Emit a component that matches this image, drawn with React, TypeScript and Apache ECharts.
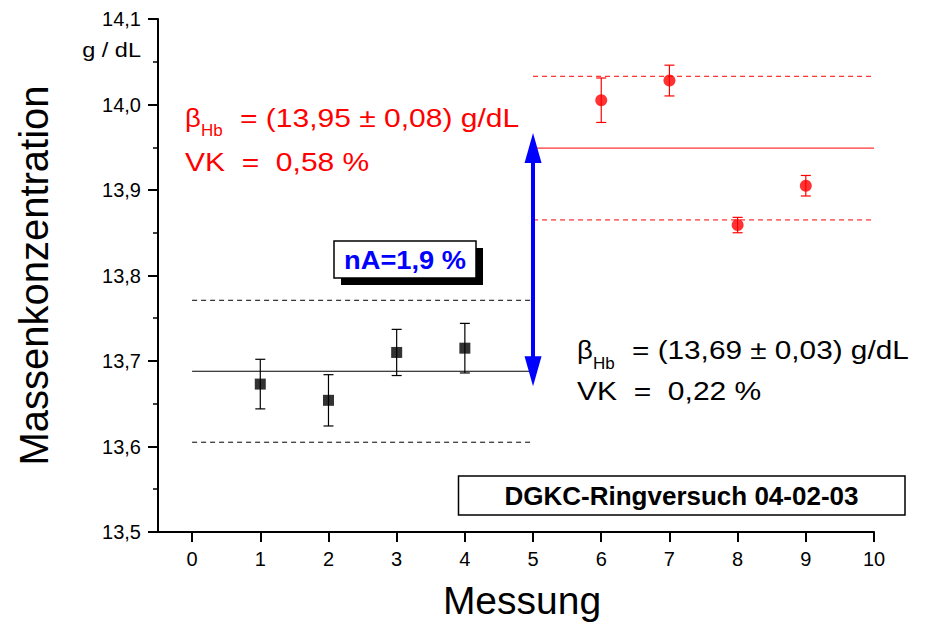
import React, { useEffect, useRef } from "react";
import * as echarts from "echarts";

// ---- data ----
const xTickValues = [0, 1, 2, 3, 4, 5, 6, 7, 8, 9, 10];

const labAX = [1, 2, 3, 4];
const labAY = [13.673, 13.654, 13.71, 13.715];
const labAErr = [0.029, 0.03, 0.027, 0.029];
const labAMean = 13.688;
const labABand = [13.605, 13.771];
const labARange = [0, 5];

const labBX = [6, 7, 8, 9];
const labBY = [14.005, 14.028, 13.859, 13.905];
const labBErr = [0.026, 0.018, 0.009, 0.012];
const labBMean = 13.949;
const labBBand = [13.865, 14.033];
const labBRange = [5, 10];

const FONT = "'Liberation Sans', Arial, Helvetica, sans-serif";

function errorSeries(xs: number[], ys: number[], errs: number[], color: string) {
  return {
    type: "custom",
    silent: true,
    z: 2,
    data: xs.map((x, i) => [x, ys[i] - errs[i], ys[i] + errs[i]]),
    encode: { x: 0, y: [1, 2] },
    renderItem: (params: any, api: any) => {
      const x = api.value(0);
      const pLo = api.coord([x, api.value(1)]);
      const pHi = api.coord([x, api.value(2)]);
      const hw = 5;
      const style = { stroke: color, lineWidth: 1.2 };
      return {
        type: "group",
        children: [
          { type: "line", shape: { x1: pLo[0], y1: pLo[1], x2: pHi[0], y2: pHi[1] }, style },
          { type: "line", shape: { x1: pLo[0] - hw, y1: pLo[1], x2: pLo[0] + hw, y2: pLo[1] }, style },
          { type: "line", shape: { x1: pHi[0] - hw, y1: pHi[1], x2: pHi[0] + hw, y2: pHi[1] }, style },
        ],
      };
    },
  };
}

function hLine(range: number[], y: number, color: string, dashed: boolean) {
  return {
    type: "line",
    silent: true,
    showSymbol: false,
    symbol: "none",
    z: 1,
    data: [
      [range[0], y],
      [range[1], y],
    ],
    lineStyle: { color, width: 1, type: dashed ? [5, 4] : "solid" },
  };
}

function txt(
  text: string,
  x: number,
  y: number,
  size: number,
  color: string,
  opts: { bold?: boolean; align?: string; scaleX?: number } = {}
) {
  return {
    type: "text",
    x,
    y,
    scaleX: opts.scaleX ?? 1,
    z: 20,
    style: {
      text,
      x: 0,
      y: 0,
      fill: color,
      fontSize: size,
      fontFamily: FONT,
      fontWeight: opts.bold ? "bold" : "normal",
      align: opts.align ?? "left",
      textAlign: opts.align ?? "left",
      verticalAlign: "middle",
      textVerticalAlign: "middle",
    },
  };
}

export default function App() {
  const ref = useRef<HTMLDivElement>(null);

  useEffect(() => {
    if (!ref.current) return;
    const chart = echarts.init(ref.current, null, { renderer: "svg" });

    const option: any = {
      animation: false,
      backgroundColor: "#ffffff",
      grid: { left: 158, right: 55, top: 19, bottom: 90, containLabel: false },
      xAxis: {
        type: "value",
        min: -0.5,
        max: 10,
        interval: 1,
        name: "Messung",
        nameLocation: "middle",
        nameGap: 49,
        nameTextStyle: { fontSize: 39, fontFamily: FONT, color: "#000", padding: [0, 0, 0, 12] },
        axisLine: { show: true, onZero: false, lineStyle: { color: "#000", width: 2 } },
        axisTick: { show: true, length: 10, lineStyle: { color: "#000", width: 2 }, customValues: xTickValues },
        axisLabel: {
          show: true,
          margin: 17,
          fontSize: 20,
          fontFamily: FONT,
          color: "#000",
          customValues: xTickValues,
          formatter: (v: number) => (Number.isInteger(v) ? String(v) : ""),
        },
        splitLine: { show: false },
      },
      yAxis: {
        type: "value",
        min: 13.5,
        max: 14.1,
        interval: 0.1,
        name: "Massenkonzentration",
        nameLocation: "middle",
        nameGap: 104,
        nameTextStyle: { fontSize: 40, fontFamily: FONT, color: "#000" },
        axisLine: { show: true, onZero: false, lineStyle: { color: "#000", width: 2 } },
        axisTick: { show: true, length: 10, lineStyle: { color: "#000", width: 2 } },
        minorTick: { show: true, splitNumber: 2, length: 5, lineStyle: { color: "#000", width: 1.5 } },
        axisLabel: {
          show: true,
          margin: 17,
          fontSize: 20,
          fontFamily: FONT,
          color: "#000",
          formatter: (v: number) => v.toFixed(1).replace(".", ","),
        },
        splitLine: { show: false },
        minorSplitLine: { show: false },
      },
      series: [
        hLine(labARange, labAMean, "#000000", false),
        hLine(labARange, labABand[0], "#000000", true),
        hLine(labARange, labABand[1], "#000000", true),
        hLine(labBRange, labBMean, "#ff0000", false),
        hLine(labBRange, labBBand[0], "#ff0000", true),
        hLine(labBRange, labBBand[1], "#ff0000", true),
        errorSeries(labAX, labAY, labAErr, "#000000"),
        errorSeries(labBX, labBY, labBErr, "#ff0000"),
        {
          type: "scatter",
          silent: true,
          z: 3,
          symbol: "rect",
          symbolSize: 11,
          itemStyle: { color: "#000000" },
          data: labAX.map((x, i) => [x, labAY[i]]),
        },
        {
          type: "scatter",
          silent: true,
          z: 3,
          symbol: "circle",
          symbolSize: 12,
          itemStyle: { color: "#ff0000" },
          data: labBX.map((x, i) => [x, labBY[i]]),
          markLine: {
            silent: true,
            symbol: ["triangle", "triangle"],
            symbolSize: [17, 30],
            label: { show: false },
            emphasis: { disabled: true },
            lineStyle: { color: "#0000ff", width: 4, type: "solid" },
            data: [[{ coord: [labARange[1], labAMean] }, { coord: [labBRange[0], labBMean] }]],
          },
        },
      ],
      graphic: [
        txt("g / dL", 141, 50, 21, "#000", { align: "right", scaleX: 1.12 }),
        // red annotation
        txt("β", 185, 118, 25, "#ff0000", { scaleX: 1.1 }),
        txt("Hb", 201, 130, 17, "#ff0000"),
        txt("= (13,95 ± 0,08) g/dL", 240, 118, 25, "#ff0000", { scaleX: 1.2 }),
        txt("VK  =  0,58 %", 185, 162, 25, "#ff0000", { scaleX: 1.2 }),
        // black annotation
        txt("β", 577, 350, 25, "#000", { scaleX: 1.1 }),
        txt("Hb", 593, 363, 17, "#000"),
        txt("= (13,69 ± 0,03) g/dL", 632, 350, 25, "#000", { scaleX: 1.19 }),
        txt("VK  =  0,22 %", 577, 391, 25, "#000", { scaleX: 1.2 }),
        // nA box
        { type: "rect", z: 18, shape: { x: 341, y: 248, width: 142, height: 37 }, style: { fill: "#000" } },
        {
          type: "rect",
          z: 19,
          shape: { x: 334, y: 241, width: 142, height: 37 },
          style: { fill: "#fff", stroke: "#000", lineWidth: 1.5 },
        },
        txt("nA=1,9 %", 405, 260, 25, "#0000ff", { bold: true, align: "center", scaleX: 1.09 }),
        // title box
        {
          type: "rect",
          z: 19,
          shape: { x: 458.5, y: 476, width: 446.5, height: 39 },
          style: { fill: "#fff", stroke: "#000", lineWidth: 1.5 },
        },
        txt("DGKC-Ringversuch 04-02-03", 681.5, 496, 25, "#000", { bold: true, align: "center", scaleX: 1.04 }),
      ],
    };

    chart.setOption(option);
    return () => chart.dispose();
  }, []);

  return (
    <div
      ref={ref}
      style={{ position: "fixed", left: 0, top: 0, width: 929, height: 625, background: "#fff" }}
    />
  );
}
